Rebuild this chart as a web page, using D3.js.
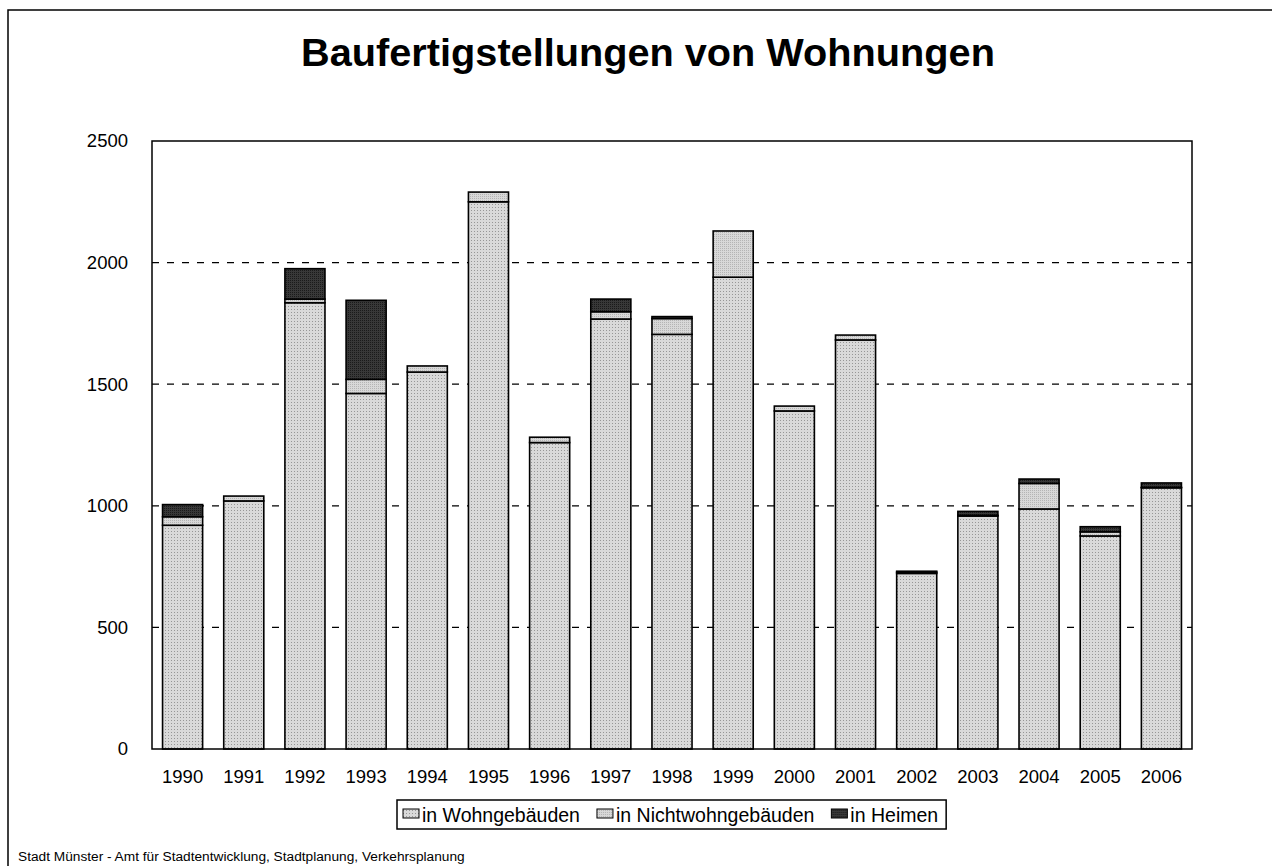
<!DOCTYPE html>
<html>
<head>
<meta charset="utf-8">
<script src="https://cdn.jsdelivr.net/npm/d3@7"></script>
<style>
  body { margin: 0; background: #fff; }
  svg { display: block; font-family: "Liberation Sans", Arial, sans-serif; }
</style>
</head>
<body>
<div id="chart"></div>
<script>
// Data
const years = ["1990", "1991", "1992", "1993", "1994", "1995", "1996", "1997", "1998",
  "1999", "2000", "2001", "2002", "2003", "2004", "2005", "2006"];
const wohngebaeude = [920, 1020, 1835, 1462, 1550, 2250, 1260, 1768, 1705, 1940, 1390, 1682, 722, 958, 987, 876, 1074];
const nichtwohn = [35, 20, 15, 58, 25, 40, 22, 30, 65, 190, 20, 20, 5, 3, 105, 17, 2];
const heime = [50, 0, 125, 325, 0, 0, 0, 52, 8, 0, 0, 0, 4, 16, 18, 21, 18];
const seriesNames = ["in Wohngebäuden", "in Nichtwohngebäuden", "in Heimen"];
const yTicks = [0, 500, 1000, 1500, 2000, 2500];

const width = 1272, height = 866;
const margin = { top: 141, right: 80, bottom: 117, left: 152 };

const svg = d3.select("#chart").append("svg")
  .attr("width", width)
  .attr("height", height);

// Fill patterns imitating the dotted Excel fills
const defs = svg.append("defs");
function makePattern(id, bg, dot, size) {
  const p = defs.append("pattern")
    .attr("id", id)
    .attr("patternUnits", "userSpaceOnUse")
    .attr("width", size).attr("height", size);
  p.append("rect").attr("width", size).attr("height", size).attr("fill", bg);
  p.append("rect").attr("width", 1).attr("height", 1).attr("fill", dot);
  return "url(#" + id + ")";
}
const fills = [
  makePattern("pWohn", "#d9d9d9", "#969696", 3),
  makePattern("pNicht", "#d8d8d8", "#b4b4b4", 2),
  makePattern("pHeim", "#383838", "#1a1a1a", 2)
];

// Outer frame
svg.append("rect")
  .attr("x", 8).attr("y", 10)
  .attr("width", width + 20).attr("height", height + 20)
  .attr("fill", "none").attr("stroke", "#000").attr("stroke-width", 1.5);

// Title
svg.append("text")
  .attr("x", 648).attr("y", 66)
  .attr("text-anchor", "middle")
  .style("font-size", "39.7px").style("font-weight", "bold")
  .text("Baufertigstellungen von Wohnungen");

const x = d3.scaleBand()
  .domain(years)
  .range([margin.left, width - margin.right])
  .paddingInner(0.345)
  .paddingOuter(0.1725);

const y = d3.scaleLinear()
  .domain([0, 2500])
  .range([height - margin.bottom, margin.top]);

// Gridlines
svg.append("g")
  .selectAll("line")
  .data(yTicks.filter(d => d > 0 && d < 2500))
  .enter().append("line")
  .attr("x1", margin.left).attr("x2", width - margin.right)
  .attr("y1", d => y(d)).attr("y2", d => y(d))
  .attr("stroke", "#000").attr("stroke-width", 1.2)
  .attr("stroke-dasharray", "7,8");

// Stacked bars
const table = years.map((yr, i) => ({
  year: yr,
  [seriesNames[0]]: wohngebaeude[i],
  [seriesNames[1]]: nichtwohn[i],
  [seriesNames[2]]: heime[i]
}));
const series = d3.stack().keys(seriesNames)(table);

svg.append("g")
  .selectAll("g")
  .data(series)
  .enter().append("g")
  .attr("fill", (d, i) => fills[i])
  .selectAll("rect")
  .data(d => d.filter(v => v[1] - v[0] > 0))
  .enter().append("rect")
  .attr("x", d => x(d.data.year))
  .attr("width", x.bandwidth())
  .attr("y", d => y(d[1]))
  .attr("height", d => y(d[0]) - y(d[1]))
  .attr("stroke", "#000")
  .attr("stroke-width", 1.6);

// Plot frame
svg.append("rect")
  .attr("x", margin.left).attr("y", margin.top)
  .attr("width", width - margin.right - margin.left)
  .attr("height", height - margin.bottom - margin.top)
  .attr("fill", "none").attr("stroke", "#000").attr("stroke-width", 1.5);

// Axes
const yAxis = svg.append("g")
  .attr("transform", `translate(${margin.left},0)`)
  .call(d3.axisLeft(y).tickValues(yTicks).tickFormat(d3.format("d")).tickSize(0).tickPadding(24));
yAxis.select(".domain").remove();
yAxis.selectAll("text").style("font-size", "18.5px").style("font-family", "Liberation Sans, Arial, sans-serif").attr("fill", "#000");

const xAxis = svg.append("g")
  .attr("transform", `translate(0,${height - margin.bottom})`)
  .call(d3.axisBottom(x).tickSize(0).tickPadding(21));
xAxis.select(".domain").remove();
xAxis.selectAll("text").style("font-size", "18.5px").style("font-family", "Liberation Sans, Arial, sans-serif").attr("fill", "#000");

// Legend
const legend = svg.append("g");
const legendItems = legend.selectAll("g")
  .data(seriesNames)
  .enter().append("g");
legendItems.append("rect")
  .attr("width", 16).attr("height", 9)
  .attr("y", -13)
  .attr("fill", (d, i) => fills[i])
  .attr("stroke", "#000").attr("stroke-width", 1);
legendItems.append("text")
  .attr("x", 19)
  .style("font-size", "19.5px")
  .text(d => d);
let lx = 0;
legendItems.each(function() {
  d3.select(this).attr("transform", `translate(${lx},0)`);
  lx += this.getBBox().width + 17;
});
const legendW = lx - 17;
const legendX = 403, legendY = 822;
legend.attr("transform", `translate(${legendX},${legendY})`);
legend.insert("rect", ":first-child")
  .attr("x", -6).attr("y", -22)
  .attr("width", legendW + 14).attr("height", 29)
  .attr("fill", "#fff").attr("stroke", "#000").attr("stroke-width", 1.5);

// Footer
svg.append("text")
  .attr("x", 18).attr("y", 861)
  .style("font-size", "13.7px")
  .text("Stadt Münster - Amt für Stadtentwicklung, Stadtplanung, Verkehrsplanung");
</script>
</body>
</html>
